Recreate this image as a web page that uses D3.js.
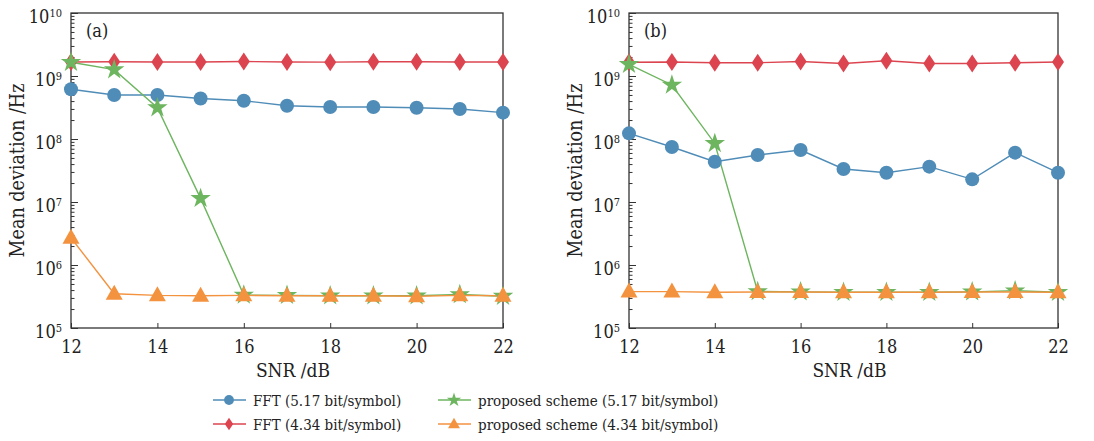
<!DOCTYPE html>
<html><head><meta charset="utf-8">
<script src="https://cdn.jsdelivr.net/npm/d3@7"></script>
<style>body{margin:0;background:#fff} svg text{font-family:"DejaVu Serif Condensed","DejaVu Serif",serif;font-stretch:condensed;}</style>
</head><body>
<svg id="c" width="1094" height="441"></svg>
<script>
const snr = [12,13,14,15,16,17,18,19,20,21,22];
// panel (a)
const aFFT517 = [6.15e8,5.0e8,5.0e8,4.4e8,4.05e8,3.38e8,3.22e8,3.22e8,3.14e8,2.99e8,2.62e8];
const aFFT434 = [1.67e9,1.68e9,1.67e9,1.67e9,1.70e9,1.67e9,1.66e9,1.68e9,1.68e9,1.67e9,1.67e9];
const aProp517 = [1.65e9,1.26e9,3.14e8,1.14e7,3.34e5,3.3e5,3.25e5,3.25e5,3.25e5,3.4e5,3.2e5];
const aProp434 = [2.7e6,3.5e5,3.3e5,3.25e5,3.3e5,3.25e5,3.25e5,3.25e5,3.2e5,3.3e5,3.25e5];
// panel (b)
const bFFT517 = [1.23e8,7.46e7,4.36e7,5.57e7,6.68e7,3.34e7,2.92e7,3.64e7,2.29e7,6.07e7,2.92e7];
const bFFT434 = [1.65e9,1.67e9,1.62e9,1.62e9,1.70e9,1.58e9,1.75e9,1.58e9,1.58e9,1.62e9,1.67e9];
const bProp517 = [1.53e9,7.2e8,8.5e7,3.8e5,3.75e5,3.7e5,3.7e5,3.7e5,3.75e5,3.9e5,3.7e5];
const bProp434 = [3.78e5,3.78e5,3.7e5,3.72e5,3.72e5,3.7e5,3.7e5,3.7e5,3.72e5,3.72e5,3.7e5];
const xTicks = [12,14,16,18,20,22];
const yExps = [5,6,7,8,9,10];
const seriesNames = ["FFT (5.17 bit/symbol)","FFT (4.34 bit/symbol)","proposed scheme (5.17 bit/symbol)","proposed scheme (4.34 bit/symbol)"];
const colors = ["#4f8cb7","#dc4550","#6db55f","#f3923f"];
const shapes = ["circle","diamond","star","triangle"];

const svg = d3.select("#c");

function marker(g, shape, color){
  if(shape==="circle") g.append("circle").attr("r",7).attr("fill",color);
  else if(shape==="diamond") g.append("path").attr("d","M0,-9L6,0L0,9L-6,0Z").attr("fill",color);
  else if(shape==="star") g.append("path").attr("d",d3.symbol(d3.symbolStar, 130)()).attr("fill",color);
  else g.append("path").attr("d","M0,-9L8.5,6L-8.5,6Z").attr("fill",color);
}

function panel(x0, x1, label, data){
  const top=13, bottom=328;
  const x = d3.scaleLinear().domain([12,22]).range([x0,x1]);
  const y = d3.scaleLog().domain([1e5,1e10]).range([bottom,top]);
  const g = svg.append("g");
  const minors=[];
  for(let e=5;e<10;e++) for(let m=2;m<10;m++) minors.push(m*Math.pow(10,e));
  g.append("g").attr("transform",`translate(${x0},0)`)
    .call(d3.axisLeft(y).tickValues(minors).tickSize(-3.5).tickFormat(""))
    .call(s=>{s.select(".domain").remove(); s.selectAll("line").attr("stroke","#333").attr("stroke-width",1);});
  const ya = g.append("g").attr("transform",`translate(${x0},0)`)
    .call(d3.axisLeft(y).tickValues(yExps.map(e=>Math.pow(10,e))).tickSize(-7).tickFormat(""));
  ya.attr("font-family",null);
  ya.select(".domain").remove();
  ya.selectAll("line").attr("stroke","#333").attr("stroke-width",1);
  ya.selectAll(".tick").each(function(d){
    const t = d3.select(this).append("text").attr("x",-9).attr("y",9)
      .attr("text-anchor","end").attr("fill","#222").attr("font-size",18);
    t.append("tspan").text("10");
    t.append("tspan").attr("dy",-6).attr("font-size",11).text(Math.round(Math.log10(d)));
  });
  const xa = g.append("g").attr("transform",`translate(0,${bottom})`)
    .call(d3.axisBottom(x).tickValues(xTicks).tickSize(-5).tickFormat(d3.format("d")));
  xa.attr("font-family",null).attr("font-size",null);
  xa.select(".domain").remove();
  xa.selectAll("line").attr("stroke","#333");
  xa.selectAll("text").attr("y",12).attr("fill","#222").attr("font-size",18);
  g.append("rect").attr("x",x0).attr("y",top).attr("width",x1-x0).attr("height",bottom-top)
    .attr("fill","none").attr("stroke","#333").attr("stroke-width",1.3);
  g.append("text").attr("x",(x0+x1)/2+6).attr("y",377).attr("text-anchor","middle")
    .attr("font-size",19).attr("fill","#222").text("SNR /dB");
  g.append("text").attr("transform",`translate(${x0-47},${(top+bottom)/2}) rotate(-90)`)
    .attr("text-anchor","middle").attr("font-size",19.5).attr("fill","#222")
    .text("Mean deviation /Hz");
  g.append("text").attr("x",x0+15).attr("y",37).attr("font-size",18)
    .attr("fill","#222").text(label);
  const line = d3.line().x((d,i)=>x(snr[i])).y(d=>y(d));
  const order=[0,1,2,3];
  order.forEach(k=>{
    g.append("path").datum(data[k]).attr("d",line).attr("fill","none")
      .attr("stroke",colors[k]).attr("stroke-width",1.4);
  });
  order.forEach(k=>{
    data[k].forEach((v,i)=>{
      const m = g.append("g").attr("transform",`translate(${x(snr[i])},${y(v)})`);
      marker(m, shapes[k], colors[k]);
    });
  });
}
panel(71,503,"(a)",[aFFT517,aFFT434,aProp517,aProp434]);
panel(629,1058,"(b)",[bFFT517,bFFT434,bProp517,bProp434]);

const lg = svg.append("g");
const pos = [[213,400],[213,424],[438,400],[438,424]];
seriesNames.forEach((n,k)=>{
  const [lx,ly]=pos[k];
  lg.append("line").attr("x1",lx).attr("x2",lx+33).attr("y1",ly).attr("y2",ly)
    .attr("stroke",colors[k]).attr("stroke-width",1.4);
  const m = lg.append("g").attr("transform",`translate(${lx+16},${ly}) scale(0.7)`);
  marker(m, shapes[k], colors[k]);
  lg.append("text").attr("x",lx+40).attr("y",ly+6).attr("font-size",15)
    .attr("fill","#222").text(n);
});
</script>
</body></html>
